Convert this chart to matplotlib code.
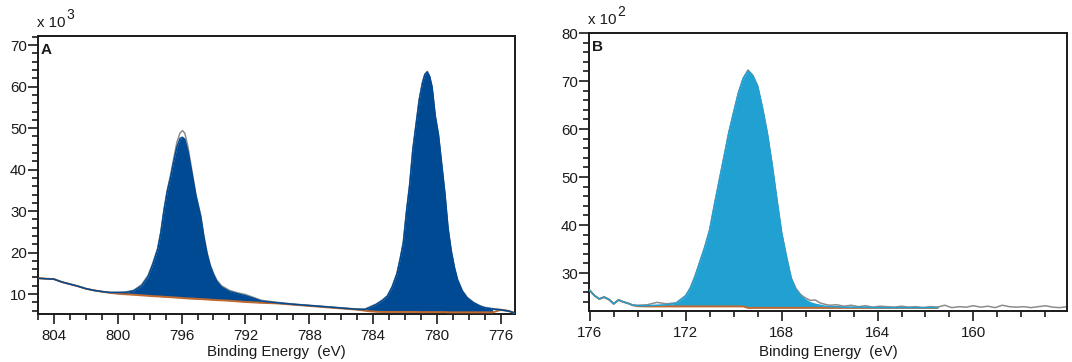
import numpy as np
import matplotlib
matplotlib.use("Agg")
import matplotlib.pyplot as plt
from matplotlib.ticker import MultipleLocator

plt.rcParams["font.family"] = ["Liberation Sans", "DejaVu Sans"]

# ---- panel A : binding energy (eV), intensity (x 10^3) ----
energy_a = [804.9, 804.5, 804.0, 803.5, 803.0, 802.5, 802.0, 801.5, 801.0, 800.5,
            800.0, 799.5, 799.0, 798.5, 798.1, 797.8, 797.5, 797.3, 797.1, 796.9,
            796.7, 796.5, 796.3, 796.1, 795.95, 795.8, 795.6, 795.3, 795.1, 794.8,
            794.6, 794.4, 794.2, 794.0, 793.8, 793.5, 793.0, 792.5, 792.0, 791.5,
            791.0, 790.0, 789.0, 788.0, 787.0, 786.0, 785.0, 784.5, 784.2, 783.8,
            783.4, 783.1, 782.8, 782.5, 782.3, 782.1, 781.9, 781.7, 781.5, 781.3,
            781.1, 780.9, 780.75, 780.6, 780.45, 780.3, 780.1, 779.9, 779.7, 779.5,
            779.3, 779.1, 778.9, 778.7, 778.4, 778.1, 777.7, 777.3, 777.0, 776.5,
            776.0, 775.5, 775.1]
data_a = [13.8, 13.7, 13.6, 12.9, 12.4, 11.9, 11.3, 10.9, 10.6, 10.4,
          10.4, 10.5, 10.9, 12.3, 14.5, 17.5, 21.0, 25.0, 30.5, 35.0,
          38.5, 42.5, 46.5, 48.8, 49.4, 48.8, 45.5, 38.5, 34.0, 29.0,
          24.0, 20.0, 17.0, 15.0, 13.4, 12.0, 10.9, 10.3, 9.9, 9.2,
          8.5, 8.0, 7.6, 7.3, 7.0, 6.7, 6.4, 6.4, 6.9, 7.6,
          8.6, 9.6, 11.8, 15.0, 18.5, 22.5, 30.0, 36.5, 45.0, 51.0,
          57.0, 61.0, 63.0, 63.7, 62.5, 60.0, 53.0, 48.5, 41.5, 34.5,
          26.0, 20.5, 16.5, 13.5, 10.8, 9.2, 8.0, 7.2, 6.8, 6.5,
          6.3, 6.0, 5.5]
fit_a = [13.8, 13.7, 13.6, 12.9, 12.4, 11.9, 11.3, 10.9, 10.6, 10.4,
         10.4, 10.4, 10.8, 12.0, 14.2, 17.2, 20.8, 24.8, 30.2, 34.7,
         38.0, 41.8, 45.3, 47.5, 47.8, 47.3, 44.3, 38.0, 33.6, 28.6,
         23.6, 19.6, 16.7, 14.7, 13.1, 11.7, 10.6, 10.1, 9.6, 9.0,
         8.3, 7.9, 7.55, 7.25, 6.95, 6.65, 6.35, 6.3, 6.8, 7.5,
         8.5, 9.5, 11.7, 14.9, 18.4, 22.4, 29.9, 36.4, 44.9, 50.9,
         56.9, 60.9, 62.9, 63.5, 62.4, 59.9, 52.9, 48.4, 41.4, 34.4,
         25.9, 20.4, 16.4, 13.4, 10.7, 9.1, 7.9, 7.1, 6.7, 6.4,
         6.2, 5.9, 5.4]
base_a = [13.8, 13.7, 13.6, 12.9, 12.4, 11.9, 11.3, 10.9, 10.6, 10.3,
          10.1, 9.95, 9.85, 9.7, 9.6, 9.5, 9.45, 9.4, 9.35, 9.3,
          9.25, 9.2, 9.15, 9.1, 9.05, 9.0, 8.95, 8.9, 8.85, 8.8,
          8.75, 8.7, 8.65, 8.6, 8.55, 8.5, 8.4, 8.25, 8.1, 8.0,
          7.9, 7.75, 7.45, 7.15, 6.85, 6.55, 6.25, 6.0, 5.85, 5.75,
          5.7, 5.7, 5.7, 5.7, 5.7, 5.7, 5.7, 5.7, 5.7, 5.7,
          5.65, 5.65, 5.65, 5.65, 5.65, 5.65, 5.65, 5.65, 5.65, 5.65,
          5.6, 5.6, 5.6, 5.6, 5.6, 5.6, 5.6, 5.6, 5.6, 5.6,
          6.2, 5.9, 5.4]

# ---- panel B : binding energy (eV), intensity (x 10^2) ----
energy_b = [176.0, 175.8, 175.6, 175.4, 175.2, 175.0, 174.8, 174.6, 174.4, 174.2,
            174.0, 173.6, 173.2, 172.8, 172.4, 172.0, 171.8, 171.6, 171.4, 171.2,
            171.0, 170.8, 170.6, 170.4, 170.2, 170.0, 169.8, 169.6, 169.4, 169.2,
            169.0, 168.8, 168.6, 168.4, 168.2, 168.0, 167.8, 167.6, 167.4, 167.2,
            167.0, 166.8, 166.6, 166.4, 166.2, 166.0, 165.7, 165.4, 165.1, 164.8,
            164.5, 164.2, 163.9, 163.6, 163.3, 163.0, 162.7, 162.4, 162.1, 161.8,
            161.5, 161.2, 160.9, 160.6, 160.3, 160.0, 159.7, 159.4, 159.1, 158.8,
            158.5, 158.2, 157.9, 157.6, 157.3, 157.0, 156.7, 156.4, 156.1]
data_b = [26.4, 25.3, 24.6, 25.0, 24.5, 23.6, 24.4, 24.0, 23.7, 23.3,
          23.3, 23.4, 23.9, 23.6, 23.8, 25.3, 27.0, 29.5, 32.5, 35.5,
          39.0, 44.3, 49.3, 54.3, 59.3, 63.5, 67.6, 70.6, 72.3, 71.2,
          69.0, 64.5, 59.3, 52.8, 45.5, 38.5, 33.5, 29.0, 26.8, 25.5,
          24.8, 24.3, 24.4, 23.8, 23.5, 23.3, 23.4, 23.1, 23.3, 23.0,
          23.2, 22.9, 23.1, 23.0, 22.9, 23.1, 22.9, 23.0, 22.8, 23.0,
          22.9, 23.3, 22.8, 23.0, 22.9, 23.2, 22.9, 23.1, 22.8, 23.3,
          23.0, 22.9, 23.0, 22.8, 23.0, 23.2, 22.9, 22.8, 23.0]
fit_b = [26.4, 25.3, 24.6, 25.0, 24.5, 23.6, 24.4, 24.0, 23.7, 23.3,
         23.2, 23.2, 23.3, 23.4, 23.7, 25.2, 26.9, 29.4, 32.4, 35.4,
         38.9, 44.2, 49.2, 54.2, 59.2, 63.4, 67.5, 70.5, 72.1, 71.1,
         68.9, 64.4, 59.2, 52.7, 45.4, 38.4, 33.4, 28.9, 26.5, 25.2,
         24.4, 23.8, 23.5, 23.3, 23.1, 23.0, 23.0, 22.9, 22.9, 22.9,
         22.9, 22.8, 22.8, 22.8, 22.8, 22.8, 22.8, 22.8, 22.8, 22.8,
         22.8, None, None, None, None, None, None, None, None, None,
         None, None, None, None, None, None, None, None, None]
base_b = [26.4, 25.3, 24.6, 25.0, 24.5, 23.6, 24.4, 24.0, 23.7, 23.3,
          23.1, 23.05, 23.05, 23.05, 23.05, 23.05, 23.05, 23.05, 23.05, 23.05,
          23.05, 23.05, 23.05, 23.05, 23.05, 23.05, 23.05, 23.05, 22.75, 22.75,
          22.75, 22.75, 22.75, 22.75, 22.75, 22.75, 22.75, 22.75, 22.75, 22.75,
          22.75, 22.75, 22.75, 22.75, 22.75, 22.75, 22.75, 22.75, 22.75, 22.75,
          22.75, 22.75, 22.75, 22.75, 22.75, 22.75, 22.75, 22.75, 22.75, 22.75,
          22.75, None, None, None, None, None, None, None, None, None,
          None, None, None, None, None, None, None, None, None]

GRAY = "#8c8c8c"
ORANGE = "#c0692e"
TXT = "#1a1a1a"

fig = plt.figure(figsize=(10.72, 3.62), dpi=100)


def panel(rect, x, data, fit, base, fill, xlim, ylim, ymajor, letter, power, lpad):
    ax = fig.add_axes(rect)
    x = np.array(x, dtype=float)
    data = np.array(data, dtype=float)
    fit = np.array(fit, dtype=float)
    base = np.array(base, dtype=float)
    ax.plot(x, data, color=GRAY, lw=1.1, zorder=2)
    ok = ~np.isnan(fit) & ~np.isnan(base)
    ax.fill_between(x[ok], base[ok], fit[ok], where=fit[ok] > base[ok],
                    color=fill, lw=0, zorder=3)
    ax.plot(x, base, color=ORANGE, lw=1.4, zorder=4)
    ax.plot(x, fit, color=fill, lw=1.1, zorder=5)
    ax.set_xlim(*xlim)
    ax.set_ylim(*ylim)
    ax.xaxis.set_major_locator(MultipleLocator(4))
    ax.xaxis.set_minor_locator(MultipleLocator(1))
    ax.yaxis.set_major_locator(MultipleLocator(ymajor))
    ax.yaxis.set_minor_locator(MultipleLocator(2))
    ax.tick_params(which="major", length=7, width=1.2, color=TXT,
                   labelsize=10.8, labelcolor=TXT)
    ax.tick_params(which="minor", length=4, width=1.2, color=TXT)
    ax.tick_params(axis="y", which="major", pad=1)
    ax.tick_params(axis="x", which="major", pad=3.5)
    for s in ax.spines.values():
        s.set_linewidth(1.4)
        s.set_color(TXT)
    ax.set_xlabel("Binding Energy  (eV)", fontsize=10.8, color=TXT, labelpad=lpad)
    ax.text(0.006, 0.975, letter, transform=ax.transAxes, fontsize=11,
            fontweight="bold", color=TXT, va="top", ha="left")
    ax.text(-0.002, 1.02, "x 10", transform=ax.transAxes, fontsize=10.8,
            color=TXT, va="bottom", ha="left")
    ax.text(0.06, 1.05, power, transform=ax.transAxes, fontsize=10,
            color=TXT, va="bottom", ha="left")
    return ax


panel([38 / 1072, 1 - 314 / 362, 477 / 1072, 278 / 362],
      energy_a, data_a, fit_a, base_a, "#004a94",
      (805.0, 775.1), (5.2, 72.2), 10, "A", "3", 2)
panel([589 / 1072, 1 - 311 / 362, 478 / 1072, 278 / 362],
      energy_b, data_b, fit_b, base_b, "#21a0d2",
      (176.03, 156.1), (22.1, 80.0), 10, "B", "2", 4)

fig.savefig("out.png", dpi=100)
